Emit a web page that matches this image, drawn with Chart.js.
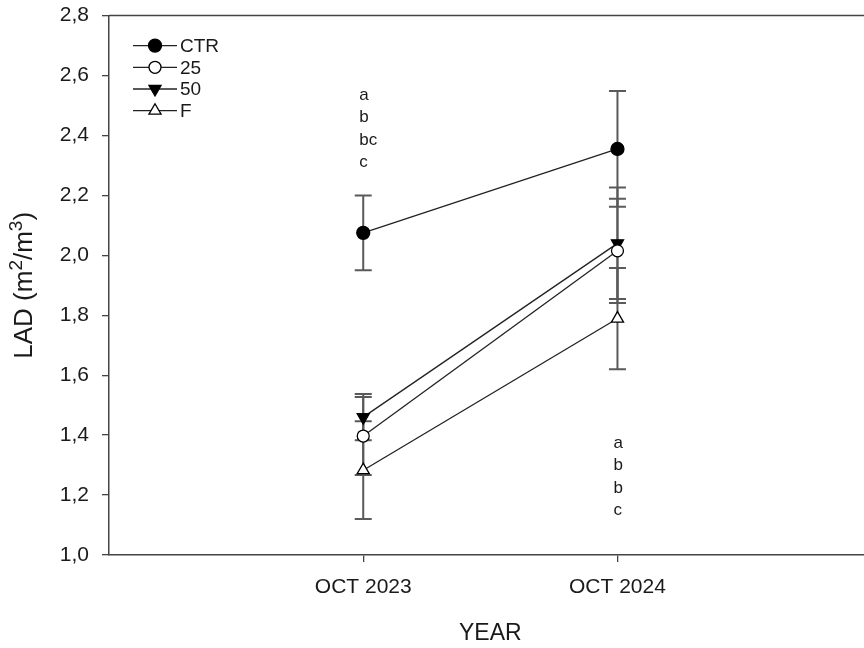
<!DOCTYPE html>
<html><head><meta charset="utf-8">
<script src="https://cdn.jsdelivr.net/npm/chart.js@4/dist/chart.umd.min.js"></script>
<style>html,body{margin:0;padding:0;overflow:hidden;background:#fff}canvas{display:block;margin-top:-10px}</style>
</head><body><canvas id="c" width="880" height="658"></canvas>
<script>
// ---- data ----
const years = [2023, 2024];
const yearLabels = ['OCT 2023', 'OCT 2024'];
const seriesNames = ['CTR', '25', '50', 'F'];
const ctrMean = [2.075, 2.355];
const ctrErr  = [0.125, 0.193];
const t25Mean = [1.397, 2.015];
const t25Err  = [0.130, 0.174];
const t50Mean = [1.460, 2.040];
const t50Err  = [0.077, 0.186];
const fMean   = [1.283, 1.789];
const fErr    = [0.163, 0.169];
const letters2023 = ['a', 'b', 'bc', 'c'];
const letters2024 = ['a', 'b', 'b', 'c'];
const yTickValues = [1.0, 1.2, 1.4, 1.6, 1.8, 2.0, 2.2, 2.4, 2.6, 2.8];
// y title pieces: [text, isSuperscript]
const yTitleParts = [['LAD (m', false], ['2', true], ['/m', false], ['3', true], [')', false]];

const FONT = '"Liberation Sans", Arial, sans-serif';
const INK = '#1a1a1a';
const AXIS = '#444';

const styles = [
  {pointStyle: 'circle',   rotation: 0,   radius: 6.5, fill: '#000'},
  {pointStyle: 'circle',   rotation: 0,   radius: 6,   fill: '#fff'},
  {pointStyle: 'triangle', rotation: 180, radius: 7,   fill: '#000'},
  {pointStyle: 'triangle', rotation: 0,   radius: 7,   fill: '#fff'}
];
const means = [ctrMean, t25Mean, t50Mean, fMean];
const errs = [ctrErr, t25Err, t50Err, fErr];

const datasets = seriesNames.map((name, k) => ({
  label: name,
  data: years.map((yr, i) => ({x: yr, y: means[k][i]})),
  errors: errs[k],
  showLine: true,
  borderColor: '#222',
  borderWidth: 1.3,
  pointStyle: styles[k].pointStyle,
  rotation: styles[k].rotation,
  pointRadius: styles[k].radius,
  pointHoverRadius: styles[k].radius,
  pointBackgroundColor: styles[k].fill,
  pointBorderColor: '#000',
  pointBorderWidth: 1.3
}));

const errorBars = {
  id: 'errorBars',
  beforeDatasetsDraw(chart) {
    const {ctx, scales: {x, y}} = chart;
    ctx.save();
    ctx.strokeStyle = '#5a5a5a';
    ctx.lineWidth = 2;
    chart.data.datasets.forEach(ds => {
      ds.data.forEach((p, i) => {
        const px = x.getPixelForValue(p.x);
        const hi = y.getPixelForValue(p.y + ds.errors[i]);
        const lo = y.getPixelForValue(p.y - ds.errors[i]);
        ctx.beginPath();
        ctx.moveTo(px, hi); ctx.lineTo(px, lo);
        ctx.moveTo(px - 8.5, hi); ctx.lineTo(px + 8.5, hi);
        ctx.moveTo(px - 8.5, lo); ctx.lineTo(px + 8.5, lo);
        ctx.stroke();
      });
    });
    ctx.restore();
  }
};

const extras = {
  id: 'extras',
  afterDraw(chart, args, opts) {
    const {ctx, chartArea, scales: {x, y}} = chart;
    ctx.save();
    // top frame line
    ctx.strokeStyle = AXIS; ctx.lineWidth = 1.5;
    ctx.beginPath();
    ctx.moveTo(chartArea.left, chartArea.top); ctx.lineTo(chartArea.right, chartArea.top);
    ctx.stroke();
    // significance letters
    ctx.fillStyle = INK;
    ctx.font = '17px ' + FONT;
    ctx.textAlign = 'left'; ctx.textBaseline = 'middle';
    const groups = [letters2023, letters2024];
    groups.forEach((lst, g) => {
      const px = x.getPixelForValue(years[g]) - 4;
      const py0 = y.getPixelForValue(opts.letterTop[g]);
      lst.forEach((t, j) => ctx.fillText(t, px, py0 + j * opts.letterStep));
    });
    // legend
    ctx.font = '19px ' + FONT;
    chart.data.datasets.forEach((ds, k) => {
      const ly = chartArea.top + opts.legendY + k * opts.legendStep;
      ctx.strokeStyle = '#222'; ctx.lineWidth = 1.3;
      ctx.beginPath(); ctx.moveTo(opts.legendX, ly); ctx.lineTo(opts.legendX + 44, ly); ctx.stroke();
      ctx.fillStyle = ds.pointBackgroundColor; ctx.strokeStyle = '#000'; ctx.lineWidth = 1.3;
      Chart.helpers.drawPoint(ctx, {pointStyle: ds.pointStyle, rotation: ds.rotation, radius: ds.pointRadius, borderWidth: 1.3}, opts.legendX + 22, ly);
      ctx.fillStyle = INK;
      ctx.fillText(ds.label, opts.legendX + 47, ly + 1);
    });
    // y axis title with real superscripts
    const base = opts.yTitleSize, sup = Math.round(base * 0.72);
    const widths = yTitleParts.map(([t, s]) => { ctx.font = (s ? sup : base) + 'px ' + FONT; return ctx.measureText(t).width; });
    const total = widths.reduce((a, b) => a + b, 0);
    ctx.translate(opts.yTitleX, (chartArea.top + chartArea.bottom) / 2);
    ctx.rotate(-Math.PI / 2);
    ctx.textBaseline = 'alphabetic';
    ctx.fillStyle = INK;
    let cx = -total / 2;
    const bl = base * 0.36;
    yTitleParts.forEach(([t, s], i) => {
      ctx.font = (s ? sup : base) + 'px ' + FONT;
      ctx.fillText(t, cx, s ? bl - base * 0.38 : bl);
      cx += widths[i];
    });
    ctx.restore();
  }
};

new Chart(document.getElementById('c'), {
  type: 'scatter',
  data: {datasets},
  plugins: [errorBars, extras],
  options: {
    responsive: false,
    animation: false,
    events: [],
    layout: {padding: {top: 8, right: 8, left: 0, bottom: 0}},
    plugins: {
      legend: {display: false},
      tooltip: {enabled: false},
      extras: {letterTop: [2.535, 1.373], letterStep: 22.5, legendX: 133, legendY: 30, legendStep: 21.7, yTitleSize: 26, yTitleX: 23}
    },
    scales: {
      x: {
        type: 'linear', min: 2022, max: 2025,
        afterBuildTicks: s => { s.ticks = years.map(v => ({value: v})); },
        afterFit: s => { s.height = 93; },
        ticks: {
          callback: v => yearLabels[years.indexOf(v)],
          font: {family: FONT, size: 21}, color: INK, padding: 13, maxRotation: 0
        },
        grid: {drawOnChartArea: false, drawTicks: true, tickLength: 7, color: AXIS, lineWidth: 1.3},
        border: {display: true, color: AXIS, width: 1.5},
        title: {display: true, text: 'YEAR', font: {family: FONT, size: 23}, color: INK, padding: {top: 0, bottom: 1}}
      },
      y: {
        type: 'linear', min: 1.0, max: 2.8,
        afterBuildTicks: s => { s.ticks = yTickValues.map(v => ({value: v})); },
        afterFit: s => { s.width = 109; },
        ticks: {
          callback: v => v.toFixed(1).replace('.', ','),
          font: {family: FONT, size: 21}, color: INK, padding: 13
        },
        grid: {drawOnChartArea: false, drawTicks: true, tickLength: 7, color: AXIS, lineWidth: 1.3},
        border: {display: true, color: AXIS, width: 1.5},
        title: {display: false}
      }
    }
  }
});
</script>
</body></html>
